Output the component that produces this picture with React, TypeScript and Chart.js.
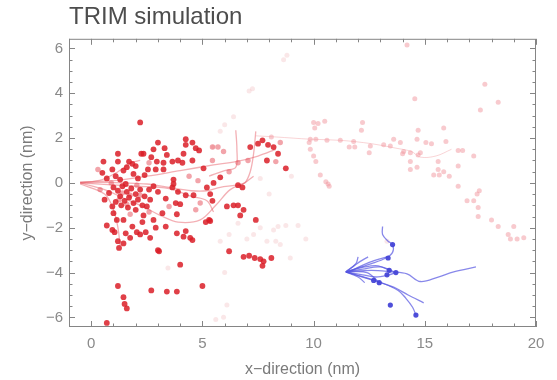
import React, { useEffect, useRef } from 'react';
import { Chart, registerables } from 'chart.js';

Chart.register(...registerables);

type P = [number, number];

const X_MIN = -1;
const X_MAX = 20;
const Y_MIN = -6.43;
const Y_MAX = 6.43;
const X_TICKS = [0, 5, 10, 15, 20];
const Y_TICKS = [-6, -4, -2, 0, 2, 4, 6];

const TITLE = 'TRIM simulation';
const X_TITLE = 'x\u2212direction (nm)';
const Y_TITLE = 'y\u2212direction (nm)';

// strong red end points
const DARK_RED: P[] = [
  [2.2, 2.7], [1.2, 1.3], [0.55, 0.95], [1.2, 0.95], [2.25, 1.3], [0.5, 0.45], [0.95, 0.6], [1.7, 0.95],
  [1.85, 0.85], [2.0, 0.75], [1.6, 0.7], [1.45, 0.55], [3.0, 1.8], [2.8, 1.5], [2.35, 1.3], [3.3, 1.55],
  [3.4, 1.25], [4.25, 1.95], [4.55, 1.8], [4.25, 1.7], [4.7, 1.55], [4.85, 1.45], [4.15, 1.3], [3.9, 1.0],
  [4.1, 0.9], [4.55, 1.0], [2.7, 1.15], [2.95, 0.95], [3.25, 0.9], [3.65, 0.95], [2.55, 0.6], [2.9, 0.6],
  [3.25, 0.6], [5.05, 0.65], [3.7, 0.15], [3.7, -0.05], [7.5, 1.75], [7.7, 1.9], [7.95, 1.7], [8.2, 1.6],
  [7.15, 1.6], [8.4, 1.3], [7.9, 1.0], [8.75, 0.65], [5.8, 0.25], [5.5, 0.0], [5.2, -0.2], [6.6, -0.1],
  [6.8, -0.2], [5.35, -0.5], [5.45, -0.8], [6.1, -1.05], [6.4, -1.0], [6.6, -1.0], [6.85, -1.2], [6.7, -1.45],
  [7.4, -1.65], [5.3, -1.65], [1.2, -4.6], [1.45, -5.1], [1.5, -5.4], [1.6, -5.6], [0.7, -6.25], [2.7, -4.8],
  [3.4, -4.85], [3.85, -4.85], [4.0, -3.65], [5.0, -4.6], [6.2, -3.05], [3.05, -3.05], [6.85, -3.3], [7.1, -3.25],
  [7.35, -3.35], [7.6, -3.4], [7.75, -3.5], [7.7, -3.7], [8.1, -3.35], [0.6, -0.75], [0.95, -1.05], [1.0, -1.35],
  [1.15, -1.65], [0.7, -1.9], [0.95, -2.1], [1.05, -2.2], [1.2, -2.6], [1.25, -2.9], [1.45, -2.7], [1.55, -2.25],
  [1.75, -2.45], [1.85, -1.95], [1.45, -1.65], [2.05, -2.2], [2.2, -2.3], [2.3, -1.75], [3.0, -0.4], [3.35, -0.7],
  [2.65, -0.75], [2.5, -1.05], [3.8, -0.9], [4.0, -0.95], [3.65, -0.2], [3.9, -0.4], [4.25, -0.55], [4.6, -0.55],
  [3.85, -1.4], [2.35, -1.45], [2.8, -1.65], [3.2, -1.35], [2.9, -2.0], [3.35, -1.95], [2.45, -2.2], [2.65, -2.45],
  [4.25, -2.15], [4.45, -2.45], [4.15, -2.4], [4.55, -2.55], [3.85, -2.25], [3.0, -3.0], [5.15, -1.75], [5.35, -1.7],
  [1.0, -0.2], [1.2, -0.35], [1.4, -0.15], [1.6, -0.4], [1.8, -0.25], [2.0, -0.5], [2.2, -0.3], [2.4, -0.6],
  [1.3, -0.6], [1.5, -0.8], [1.7, -0.65], [1.9, -0.9], [2.1, -0.75], [2.3, -1.0], [1.1, -0.85], [1.35, -1.0],
  [1.65, -1.1], [2.0, -1.2], [0.8, -0.45], [1.55, -0.05], [2.6, -0.3], [2.8, -0.15], [0.7, 0.2], [1.1, 0.3],
  [1.3, 0.15], [1.9, 0.4], [2.1, 0.2], [2.4, 0.35],
];

// lighter red points
const MID_RED: P[] = [
  [5.45, 1.6], [5.7, 1.6], [5.95, 1.4], [6.6, 0.9], [7.05, 1.0], [5.45, 1.0], [0.4, -0.3], [0.9, 0.0],
  [1.75, -1.4], [2.6, -1.3], [3.5, -1.05], [4.7, -1.2], [4.9, -0.9], [6.2, 0.5], [0.3, 0.6], [2.6, 0.9],
  [4.4, 0.3], [4.8, 0.1], [8.5, 1.8], [8.3, 0.95], [1.4, -0.45], [1.75, -0.55], [2.05, -0.1], [1.25, -0.75],
  [1.6, -0.95], [2.2, -0.55],
];

// pale pink points far from the origin
const PINK: P[] = [
  [14.2, 6.15], [14.55, 3.75], [17.7, 4.4], [18.3, 3.6], [17.5, 3.25], [10.0, 2.7], [10.2, 2.65], [10.5, 2.75],
  [10.05, 2.45], [12.2, 2.7], [12.15, 2.35], [14.7, 2.35], [15.85, 2.45], [14.65, 1.95], [15.95, 1.85], [13.6, 1.95],
  [9.85, 1.95], [10.1, 1.95], [10.6, 1.9], [11.2, 1.9], [11.8, 1.85], [11.6, 1.6], [11.85, 1.6], [12.55, 1.65],
  [13.15, 1.7], [13.45, 1.65], [12.5, 1.35], [10.0, 1.2], [10.1, 0.95], [10.3, 0.35], [10.55, 0.05], [10.65, -0.05],
  [10.7, -0.15], [13.9, 1.8], [14.05, 1.4], [14.0, 1.3], [14.35, 1.35], [14.7, 1.25], [14.8, 1.35], [15.05, 1.8],
  [15.3, 1.75], [14.35, 0.95], [14.65, 0.7], [14.35, 0.6], [15.6, 0.95], [15.6, 0.6], [15.4, 0.35], [15.65, 0.35],
  [15.85, 0.5], [16.1, 0.3], [16.5, 1.45], [16.7, 1.45], [16.5, 0.75], [17.2, 1.2], [16.5, -0.15], [17.35, -0.5],
  [17.45, -0.35], [16.9, -0.8], [17.2, -0.8], [17.4, -1.1], [17.4, -1.5], [18.0, -1.65], [18.3, -1.95], [19.0, -1.95],
  [18.75, -2.3], [18.85, -2.5], [19.15, -2.5], [19.45, -2.45], [9.8, 1.8], [9.85, 1.5], [8.1, 2.05],
];

// very faint points
const FAINT: P[] = [
  [8.2, -2.1], [8.4, -1.95], [8.75, -1.9], [9.3, -1.9], [9.65, -2.5], [8.3, -2.6], [8.5, -2.75], [8.95, -3.35],
  [7.3, -2.3], [7.6, -2.0], [7.9, -2.6], [7.0, -2.5], [6.6, -1.8], [6.2, -2.3], [5.8, -2.6], [3.45, -3.8],
  [5.6, -6.1], [5.95, -6.0], [6.1, -5.45], [6.0, -4.0], [5.5, 1.6], [5.8, 2.3], [6.4, 2.95], [7.1, 4.1],
  [7.25, 4.2], [8.65, 5.5], [8.8, 5.7], [6.0, 2.6], [7.6, 0.2], [8.0, -0.5], [9.0, 0.3], [13.3, -2.6],
];

const BLUE_DOTS: P[] = [
  [13.55, -2.75], [13.35, -3.35], [13.4, -3.9], [13.7, -4.0], [12.7, -4.35], [12.95, -4.45], [13.45, -5.45],
  [14.6, -5.9], [13.3, -4.1],
];

const RED_PATHS: P[][] = [
  [[-0.5, 0.0], [0.5, 0.02], [1.5, 0.0], [2.5, -0.05], [3.5, -0.2], [4.5, -0.35], [5.2, -0.35], [5.8, -0.2], [6.5, -0.1], [6.9, 0.0], [7.15, 0.5], [7.3, 1.3], [7.4, 2.3]],
  [[-0.5, 0.05], [1.0, 0.1], [2.5, 0.3], [4.0, 0.55], [5.5, 0.8], [6.5, 0.95], [7.5, 1.2], [8.3, 1.5]],
  [[-0.5, 0.0], [0.6, -0.3], [1.5, -0.7], [2.35, -1.07], [3.1, -1.45], [3.9, -1.75], [4.9, -1.65], [5.6, -1.0], [6.25, -0.3], [6.9, 0.0], [7.3, 0.3]],
  [[5.3, 0.3], [6.0, 0.55], [6.5, 0.7], [6.55, 1.5], [6.5, 2.35]],
  [[-0.5, 0.0], [0.5, 0.15], [1.2, 0.5], [1.8, 0.9], [2.2, 1.0]],
  [[-0.5, -0.05], [0.6, -0.5], [1.0, -1.2], [1.2, -2.0], [1.3, -2.8]],
  [[-0.5, 0.0], [2.0, -0.15], [3.5, -0.25], [4.5, -0.6], [5.2, -0.8], [5.5, -1.3]],
];

const PINK_PATHS: P[][] = [
  [[7.4, 2.1], [8.3, 2.05], [9.85, 1.95], [11.2, 1.9], [12.6, 1.75], [13.7, 1.55], [14.4, 1.4], [14.8, 1.15], [15.5, 1.2], [16.2, 1.5]],
];

const BLUE_PATHS: P[][] = [
  [[11.45, -3.97], [12.6, -3.9], [13.5, -3.97], [14.2, -4.06], [14.8, -4.4], [15.6, -4.2], [16.3, -3.97], [17.3, -3.75]],
  [[11.45, -3.97], [12.6, -3.6], [13.25, -3.35], [13.55, -3.1], [13.55, -2.75], [13.35, -2.6], [13.1, -2.3], [13.1, -1.95]],
  [[11.45, -3.97], [12.7, -4.35], [13.6, -4.65], [14.25, -5.0], [14.95, -5.35]],
  [[11.45, -3.97], [12.9, -4.4], [13.8, -4.8], [14.15, -5.15], [14.45, -5.55], [14.6, -5.9]],
  [[11.45, -3.97], [12.1, -3.5], [12.45, -3.3]],
  [[11.45, -3.97], [12.3, -3.75], [12.9, -3.7], [13.4, -3.9]],
  [[11.45, -3.97], [12.0, -4.2], [12.3, -4.45]],
  [[11.45, -3.97], [12.2, -4.1], [12.8, -4.2], [13.4, -4.1], [13.7, -4.0]],
  [[11.45, -3.97], [11.9, -3.6], [12.0, -3.3]],
  [[11.5, -4.0], [12.5, -3.55], [13.3, -3.3]],
  [[11.45, -3.97], [12.4, -4.0], [12.95, -4.45]],
  [[11.45, -3.97], [12.2, -3.85], [13.0, -3.75], [13.7, -4.0]],
];

const FONT = '"Liberation Sans", Arial, Helvetica, sans-serif';

const toXY = (a: P[]) => a.map(([x, y]) => ({ x, y }));

const framePlugin = {
  id: 'mmaFrame',
  afterDatasetsDraw(chart: any) {
    const { ctx, chartArea: a, scales } = chart;
    const xs = scales.x;
    const ys = scales.y;
    ctx.save();
    ctx.strokeStyle = '#858585';
    ctx.lineWidth = 1;
    ctx.strokeRect(a.left + 0.5, a.top + 0.5, a.right - a.left - 1, a.bottom - a.top - 1);
    ctx.beginPath();
    for (let v = Math.ceil(X_MIN); v <= X_MAX; v += 1) {
      const len = v % 5 === 0 ? 6 : 3.5;
      const px = Math.round(xs.getPixelForValue(v)) + 0.5;
      ctx.moveTo(px, a.bottom);
      ctx.lineTo(px, a.bottom - len);
      ctx.moveTo(px, a.top);
      ctx.lineTo(px, a.top + len);
    }
    for (let v = -6; v <= 6; v += 0.5) {
      const len = v % 2 === 0 ? 6 : 3.5;
      const py = Math.round(ys.getPixelForValue(v)) + 0.5;
      ctx.moveTo(a.left, py);
      ctx.lineTo(a.left + len, py);
      ctx.moveTo(a.right, py);
      ctx.lineTo(a.right - len, py);
    }
    ctx.stroke();
    ctx.restore();
  },
};

export default function App() {
  const ref = useRef<HTMLCanvasElement>(null);

  useEffect(() => {
    const pathDs = (paths: P[][], color: string, width: number, order: number) =>
      paths.map((p) => ({
        data: toXY(p),
        showLine: true,
        borderColor: color,
        borderWidth: width,
        pointRadius: 0,
        tension: 0.35,
        fill: false,
        order,
      }));
    const pointDs = (pts: P[], color: string, r: number, order: number) => ({
      data: toXY(pts),
      showLine: false,
      backgroundColor: color,
      borderWidth: 0,
      pointRadius: r,
      order,
    });

    const chart = new Chart(ref.current as HTMLCanvasElement, {
      type: 'scatter',
      data: {
        datasets: [
          pointDs(BLUE_DOTS, 'rgba(70,70,215,0.95)', 2.6, 0),
          pointDs(DARK_RED, 'rgba(218,30,40,0.85)', 2.9, 1),
          pointDs(MID_RED, 'rgba(232,90,100,0.55)', 2.7, 2),
          ...pathDs(BLUE_PATHS, 'rgba(85,85,225,0.7)', 1.3, 3),
          ...pathDs(RED_PATHS, 'rgba(228,80,90,0.45)', 1.3, 4),
          pointDs(PINK, 'rgba(242,150,158,0.5)', 2.5, 5),
          ...pathDs(PINK_PATHS, 'rgba(242,160,165,0.45)', 1, 6),
          pointDs(FAINT, 'rgba(240,185,190,0.35)', 2.5, 7),
        ] as any,
      },
      options: {
        responsive: false,
        maintainAspectRatio: false,
        animation: false,
        devicePixelRatio: 1,
        events: [],
        layout: { padding: { left: 0, right: 21, top: 0, bottom: 0 } },
        plugins: {
          legend: { display: false },
          tooltip: { enabled: false },
          title: {
            display: true,
            text: TITLE,
            align: 'start',
            fullSize: false,
            color: '#4d4d4d',
            font: { family: FONT, size: 24, weight: 'normal' },
            padding: { top: 3, bottom: 7 },
          },
        },
        scales: {
          x: {
            type: 'linear',
            min: X_MIN,
            max: X_MAX,
            afterBuildTicks: (s: any) => {
              s.ticks = X_TICKS.map((value) => ({ value }));
            },
            afterFit: (s: any) => {
              s.height = 53;
            },
            grid: { display: false, drawTicks: false },
            border: { display: false },
            ticks: {
              color: '#8a8a8a',
              font: { family: FONT, size: 15 },
              padding: 8,
              maxRotation: 0,
              autoSkip: false,
              callback: (v: any) => String(v),
            },
            title: {
              display: true,
              text: X_TITLE,
              color: '#7a7a7a',
              font: { family: FONT, size: 16 },
              padding: { top: 0, bottom: 1 },
            },
          },
          y: {
            type: 'linear',
            min: Y_MIN,
            max: Y_MAX,
            afterBuildTicks: (s: any) => {
              s.ticks = Y_TICKS.map((value) => ({ value }));
            },
            afterFit: (s: any) => {
              s.width = 69;
            },
            grid: { display: false, drawTicks: false },
            border: { display: false },
            ticks: {
              color: '#8a8a8a',
              font: { family: FONT, size: 15 },
              padding: 6,
              autoSkip: false,
              callback: (v: any) => (Number(v) < 0 ? '\u2212' + Math.abs(Number(v)) : String(v)),
            },
            title: {
              display: true,
              text: Y_TITLE,
              color: '#7a7a7a',
              font: { family: FONT, size: 16 },
              padding: { top: 18, bottom: 0 },
            },
          },
        },
      },
      plugins: [framePlugin],
    } as any);
    return () => chart.destroy();
  }, []);

  return (
    <div style={{ position: 'fixed', left: 0, top: 0, width: 557, height: 380, background: '#ffffff' }}>
      <canvas ref={ref} width={557} height={380} style={{ display: 'block', width: 557, height: 380 }} />
    </div>
  );
}
